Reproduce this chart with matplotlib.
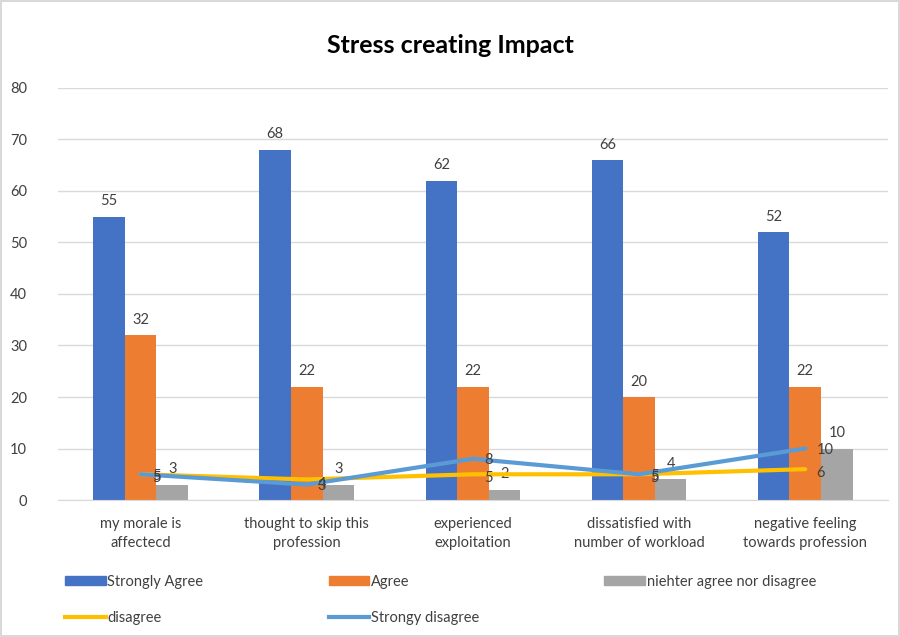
import numpy as np
import matplotlib.pyplot as plt
from matplotlib.patches import Patch
from matplotlib.lines import Line2D

plt.rcParams['font.family'] = ['Lato', 'DejaVu Sans']

# chart data
categories = ['my morale is\naffectecd', 'thought to skip this\nprofession',
              'experienced\nexploitation', 'dissatisfied with\nnumber of workload',
              'negative feeling\ntowards profession']
strongly_agree = [55, 68, 62, 66, 52]
agree = [32, 22, 22, 20, 22]
neither = [3, 3, 2, 4, 10]
disagree = [5, 4, 5, 5, 6]
strongly_disagree = [5, 3, 8, 5, 10]

c_sa = '#4472C4'
c_ag = '#ED7D31'
c_ne = '#A5A5A5'
c_di = '#FFC000'
c_sd = '#5B9BD5'

fig = plt.figure(figsize=(9, 6.37), dpi=100)
fig.patch.set_edgecolor('#D9D9D9')
fig.patch.set_linewidth(1.5)
ax = fig.add_axes([0.064, 0.215, 0.923, 0.647])

x = np.arange(len(categories))
w = 0.19
b1 = ax.bar(x - w, strongly_agree, w, color=c_sa, zorder=2)
b2 = ax.bar(x, agree, w, color=c_ag, zorder=2)
b3 = ax.bar(x + w, neither, w, color=c_ne, zorder=2)
for b in (b1, b2, b3):
    ax.bar_label(b, padding=6, fontsize=10.5, color='#404040')

ax.plot(x, disagree, color=c_di, lw=3, zorder=3, solid_capstyle='round')
ax.plot(x, strongly_disagree, color=c_sd, lw=3, zorder=4, solid_capstyle='round')
for xi, v in zip(x, disagree):
    ax.annotate(str(v), (xi, v), xytext=(8, -3), textcoords='offset points',
                ha='left', va='center', fontsize=10.5, color='#404040', zorder=5)
for xi, v in zip(x, strongly_disagree):
    ax.annotate(str(v), (xi, v), xytext=(8, -1), textcoords='offset points',
                ha='left', va='center', fontsize=10.5, color='#404040', zorder=5)

ax.set_xlim(-0.5, len(categories) - 0.5)
ax.set_ylim(0, 80)
ax.set_yticks(np.arange(0, 81, 10))
ax.yaxis.grid(True, color='#D9D9D9', lw=1, zorder=0)
ax.set_axisbelow(True)
for s in ('top', 'right', 'left'):
    ax.spines[s].set_visible(False)
ax.spines['bottom'].set_color('#D9D9D9')
ax.tick_params(length=0, labelsize=10.5, labelcolor='#404040')
ax.tick_params(axis='y', pad=22)
ax.set_xticks(x)
ax.set_xticklabels(categories, linespacing=1.45)
ax.tick_params(axis='x', pad=12)

fig.text(0.5, 0.929, 'Stress creating Impact', ha='center', va='center',
         fontsize=18, fontweight='bold', color='black')

handles = [Patch(color=c_sa), Line2D([], [], color=c_di, lw=3),
           Patch(color=c_ag), Line2D([], [], color=c_sd, lw=3),
           Patch(color=c_ne)]
labels = ['Strongly Agree', 'disagree', 'Agree', 'Strongy disagree',
          'niehter agree nor disagree']
fig.legend(handles, labels, ncol=3, loc='upper left',
           bbox_to_anchor=(0.072, 0.098),
           frameon=False, fontsize=10.5, handlelength=2.8, handleheight=0.55,
           handletextpad=0.1, labelspacing=1.55, borderpad=0, borderaxespad=0,
           columnspacing=8.6, labelcolor='#404040')

fig.savefig('out.png', dpi=100)
